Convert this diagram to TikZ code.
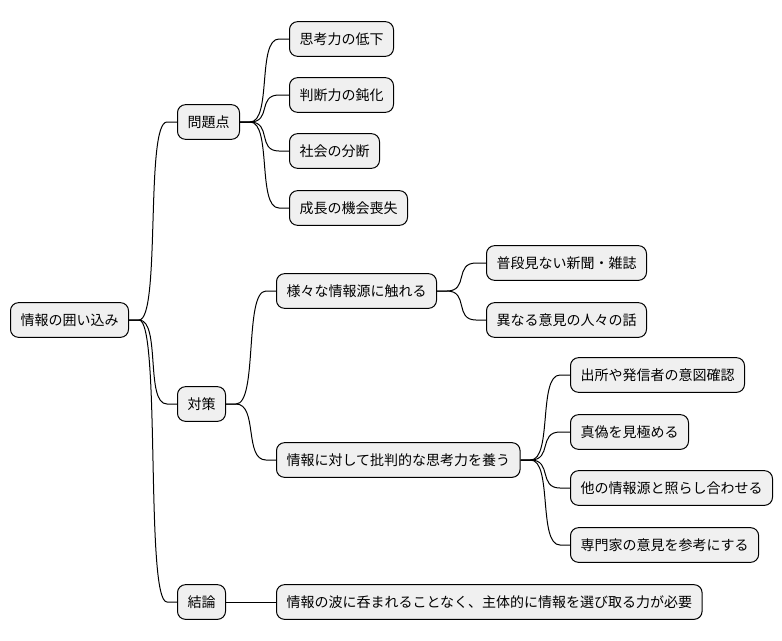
\documentclass[tikz,border=0pt]{standalone}
\usepackage{fontspec}
\setmainfont{Noto Sans CJK JP}
\usetikzlibrary{positioning}
\newcommand{\conn}[2]{\draw[edge] (#1.east) -- ([xshift=7.5]#1.east) .. controls ([xshift=24]#1.east) and ([xshift=-24]#2.west) .. ([xshift=-7.5]#2.west) -- (#2.west);}
\begin{document}
\begin{tikzpicture}[x=0.75pt,y=-0.75pt]
    \tikzset{topic/.style={draw, fill=black!6, rounded corners=6pt, line width=0.75pt, anchor=west, minimum height=26pt, inner xsep=7.5pt, font=\fontsize{10.5}{12}\selectfont},
             edge/.style={line width=0.75pt}}
    \useasboundingbox (0,0) rectangle (782,640);

    \node[topic](root) at (10,320) {情報の囲い込み};
    \node[topic](prob) at (177,122) {問題点};
    \node[topic](p1) at (289,39) {思考力の低下};
    \node[topic](p2) at (289,95) {判断力の鈍化};
    \node[topic](p3) at (289,151) {社会の分断};
    \node[topic](p4) at (289,208) {成長の機会喪失};
    \node[topic](meas) at (177,404) {対策};
    \node[topic](m1) at (276,291) {様々な情報源に触れる};
    \node[topic](m11) at (486,263) {普段見ない新聞・雑誌};
    \node[topic](m12) at (486,320) {異なる意見の人々の話};
    \node[topic](m2) at (276,460) {情報に対して批判的な思考力を養う};
    \node[topic](m21) at (570,375) {出所や発信者の意図確認};
    \node[topic](m22) at (570,432) {真偽を見極める};
    \node[topic](m23) at (570,488) {他の情報源と照らし合わせる};
    \node[topic](m24) at (570,545) {専門家の意見を参考にする};
    \node[topic](conc) at (177,602) {結論};
    \node[topic](c1) at (276,602) {情報の波に呑まれることなく、主体的に情報を選び取る力が必要};

    \conn{root}{prob} \conn{root}{meas} \conn{root}{conc}
    \conn{prob}{p1} \conn{prob}{p2} \conn{prob}{p3} \conn{prob}{p4}
    \conn{meas}{m1} \conn{meas}{m2}
    \conn{m1}{m11} \conn{m1}{m12}
    \conn{m2}{m21} \conn{m2}{m22} \conn{m2}{m23} \conn{m2}{m24}
    \conn{conc}{c1}
\end{tikzpicture}
\end{document}
